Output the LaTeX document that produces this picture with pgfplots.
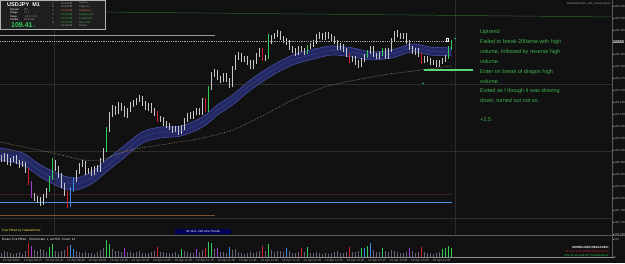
\documentclass[border=0pt]{standalone}
\usepackage{fontspec}
\setmainfont{Liberation Sans}
\usepackage{pgfplots}
\pgfplotsset{compat=1.18}
\usepackage{pgfplotstable}

\definecolor{bg}{HTML}{111111}
\definecolor{gridc}{HTML}{2E2E2E}
\definecolor{sepc}{HTML}{5A5A5A}
\definecolor{candle}{HTML}{C8C8C8}
\definecolor{cgreen}{HTML}{33CC55}
\definecolor{cred}{HTML}{D02030}
\definecolor{cblue}{HTML}{3A8CE8}
\definecolor{cpurple}{HTML}{A040D0}
\definecolor{volgray}{HTML}{67617A}
\definecolor{ribfill}{HTML}{232860}
\definecolor{ribline}{HTML}{4B53B0}
\definecolor{ribmid}{HTML}{363C8E}
\definecolor{ema}{HTML}{C9B487}
\definecolor{note}{HTML}{3FB34F}
\definecolor{axtxt}{HTML}{A0A0A0}
\definecolor{hblue}{HTML}{4F8FE0}
\definecolor{hbrown}{HTML}{7A5030}
\definecolor{hred}{HTML}{401C1C}
\definecolor{tgreen}{HTML}{2E5E2E}
\definecolor{orng}{HTML}{E07030}

\newcommand{\tf}[1]{\fontsize{#1}{#1}\selectfont}

% i open high low close candle-colour volume-colour volume
\pgfplotstableread{
i o h l c k kv v
0 108.975 108.986 108.960 108.968 0 0 60
1 108.968 108.994 108.960 108.983 0 0 85
2 108.983 108.990 108.949 108.956 0 0 70
3 108.956 108.975 108.945 108.968 0 0 55
4 108.968 108.983 108.960 108.975 0 0 45
5 108.975 108.986 108.953 108.960 0 0 65
6 108.960 108.968 108.938 108.949 0 0 80
7 108.949 108.964 108.941 108.956 0 0 50
8 108.956 108.960 108.919 108.930 0 0 95
9 108.930 108.938 108.874 108.881 2 2 210
10 108.881 108.889 108.825 108.836 4 4 160
11 108.836 108.844 108.814 108.825 0 0 110
12 108.825 108.833 108.806 108.818 0 0 90
13 108.818 108.829 108.795 108.806 0 0 120
14 108.806 108.840 108.799 108.833 0 0 100
15 108.833 108.863 108.825 108.855 0 0 75
16 108.855 108.908 108.848 108.900 1 1 150
17 108.900 108.975 108.893 108.960 1 1 190
18 108.960 108.968 108.926 108.938 0 0 85
19 108.938 108.945 108.900 108.911 0 0 70
20 108.911 108.919 108.863 108.874 0 0 90
21 108.874 108.881 108.833 108.844 0 0 105
22 108.844 108.851 108.788 108.799 2 2 160
23 108.799 108.866 108.791 108.855 3 3 180
24 108.855 108.904 108.848 108.893 3 3 120
25 108.893 108.930 108.885 108.923 0 0 95
26 108.923 108.956 108.915 108.949 0 0 80
27 108.949 108.968 108.941 108.956 0 0 60
28 108.956 108.964 108.911 108.923 0 0 75
29 108.923 108.938 108.915 108.930 0 0 55
30 108.930 108.941 108.908 108.919 0 0 65
31 108.919 108.945 108.911 108.938 0 0 50
32 108.938 108.949 108.923 108.930 0 0 70
33 108.930 108.975 108.923 108.968 0 0 110
34 108.968 109.013 108.960 109.005 0 0 130
35 109.005 109.091 108.998 109.080 1 1 250
36 109.080 109.148 109.073 109.136 0 1 200
37 109.136 109.174 109.129 109.163 0 0 120
38 109.163 109.170 109.136 109.148 0 0 90
39 109.148 109.185 109.140 109.174 0 0 85
40 109.174 109.181 109.151 109.163 0 0 70
41 109.163 109.170 109.129 109.136 0 4 140
42 109.136 109.163 109.125 109.155 0 0 80
43 109.155 109.185 109.148 109.174 0 0 75
44 109.174 109.193 109.166 109.181 0 0 60
45 109.181 109.200 109.174 109.193 0 0 70
46 109.193 109.211 109.185 109.200 0 0 85
47 109.200 109.208 109.170 109.181 0 0 65
48 109.181 109.189 109.155 109.163 0 0 55
49 109.163 109.181 109.151 109.174 0 0 60
50 109.174 109.181 109.144 109.155 0 0 75
51 109.155 109.163 109.133 109.144 0 0 90
52 109.144 109.151 109.110 109.118 2 2 150
53 109.118 109.133 109.110 109.125 0 0 70
54 109.125 109.129 109.095 109.106 0 0 80
55 109.106 109.114 109.088 109.099 0 0 65
56 109.099 109.106 109.080 109.088 0 0 55
57 109.088 109.095 109.069 109.080 0 0 60
58 109.080 109.095 109.073 109.088 0 0 70
59 109.088 109.095 109.061 109.073 0 0 50
60 109.073 109.099 109.065 109.088 0 1 120
61 109.088 109.125 109.080 109.118 0 0 95
62 109.118 109.144 109.110 109.136 0 0 80
63 109.136 109.148 109.121 109.129 0 0 60
64 109.129 109.151 109.121 109.144 0 0 65
65 109.144 109.163 109.136 109.155 0 4 120
66 109.155 109.163 109.136 109.144 0 0 70
67 109.144 109.200 109.136 109.193 0 0 100
68 109.193 109.200 109.148 109.155 2 2 140
69 109.155 109.245 109.148 109.238 1 1 230
70 109.238 109.298 109.230 109.286 0 1 210
71 109.286 109.309 109.279 109.298 0 0 120
72 109.298 109.305 109.268 109.275 0 4 130
73 109.275 109.283 109.256 109.268 0 0 80
74 109.268 109.294 109.260 109.286 0 0 70
75 109.286 109.294 109.260 109.268 0 0 60
76 109.268 109.275 109.238 109.249 0 3 150
77 109.249 109.320 109.241 109.313 0 0 110
78 109.313 109.361 109.305 109.350 0 0 120
79 109.350 109.373 109.343 109.361 0 0 75
80 109.361 109.369 109.335 109.343 0 0 65
81 109.343 109.358 109.335 109.350 0 0 50
82 109.350 109.358 109.324 109.335 0 0 60
83 109.335 109.343 109.309 109.316 0 0 70
84 109.316 109.343 109.309 109.335 0 0 55
85 109.335 109.369 109.328 109.361 0 0 80
86 109.361 109.388 109.354 109.380 0 0 90
87 109.380 109.388 109.339 109.350 2 2 160
88 109.350 109.361 109.339 109.354 0 0 90
89 109.354 109.440 109.346 109.410 1 1 200
90 109.410 109.436 109.403 109.429 0 0 110
91 109.429 109.444 109.421 109.436 0 0 80
92 109.436 109.455 109.429 109.444 0 0 95
93 109.444 109.451 109.418 109.425 0 0 85
94 109.425 109.433 109.406 109.418 0 0 70
95 109.418 109.425 109.399 109.410 0 3 140
96 109.410 109.418 109.380 109.388 0 0 90
97 109.388 109.395 109.369 109.380 0 0 65
98 109.380 109.388 109.358 109.369 0 0 60
99 109.369 109.395 109.361 109.388 0 0 75
100 109.388 109.395 109.373 109.380 0 2 130
101 109.380 109.388 109.361 109.373 0 0 70
102 109.373 109.399 109.365 109.391 1 1 150
103 109.391 109.406 109.384 109.399 0 0 65
104 109.399 109.418 109.391 109.410 0 0 55
105 109.410 109.440 109.403 109.429 0 0 80
106 109.429 109.448 109.421 109.436 0 0 60
107 109.436 109.444 109.418 109.425 0 0 50
108 109.425 109.448 109.418 109.440 0 0 55
109 109.440 109.448 109.421 109.433 0 0 45
110 109.433 109.440 109.414 109.425 0 0 60
111 109.425 109.433 109.403 109.410 0 0 70
112 109.410 109.418 109.380 109.388 0 0 85
113 109.388 109.406 109.380 109.399 0 0 55
114 109.399 109.403 109.373 109.380 0 0 65
115 109.380 109.388 109.354 109.361 0 0 80
116 109.361 109.369 109.331 109.343 2 2 150
117 109.343 109.358 109.335 109.350 0 0 70
118 109.350 109.358 109.324 109.335 0 0 80
119 109.335 109.343 109.313 109.324 0 0 90
120 109.324 109.350 109.316 109.343 0 1 130
121 109.343 109.365 109.335 109.358 0 3 140
122 109.358 109.380 109.350 109.373 1 1 170
123 109.373 109.395 109.365 109.388 0 3 210
124 109.388 109.395 109.354 109.361 0 0 100
125 109.361 109.369 109.346 109.354 0 0 80
126 109.354 109.373 109.346 109.365 0 0 70
127 109.365 109.388 109.358 109.380 1 1 140
128 109.380 109.388 109.346 109.354 0 0 90
129 109.354 109.388 109.346 109.380 0 0 75
130 109.380 109.425 109.373 109.418 0 0 110
131 109.418 109.451 109.410 109.444 0 0 95
132 109.444 109.455 109.429 109.436 0 0 70
133 109.436 109.444 109.421 109.429 0 0 60
134 109.429 109.444 109.421 109.436 0 0 55
135 109.436 109.444 109.403 109.410 0 0 80
136 109.410 109.418 109.380 109.388 0 4 140
137 109.388 109.395 109.365 109.373 0 0 90
138 109.373 109.388 109.361 109.380 0 0 60
139 109.380 109.388 109.354 109.361 0 0 70
140 109.361 109.369 109.328 109.335 2 2 150
141 109.335 109.358 109.331 109.350 0 0 80
142 109.350 109.358 109.335 109.343 0 0 60
143 109.343 109.350 109.324 109.331 0 0 55
144 109.331 109.343 109.324 109.335 0 0 50
145 109.335 109.343 109.316 109.324 0 0 65
146 109.324 109.343 109.316 109.335 0 0 70
147 109.335 109.350 109.328 109.343 0 1 120
148 109.343 109.361 109.335 109.354 0 1 130
149 109.354 109.395 109.346 109.388 1 1 170
150 109.388 109.418 109.380 109.413 1 1 140
}\bars

% dragon ribbon: EMA of highs, closes, lows
\pgfplotstableread{
i t m b
-0.5 109.013 108.990 108.968
7 108.994 108.971 108.949
13 108.949 108.926 108.904
20 108.911 108.887 108.863
25 108.900 108.878 108.855
30 108.923 108.900 108.878
35 108.968 108.945 108.923
40 109.013 108.990 108.968
47 109.073 109.052 109.031
53 109.091 109.071 109.050
60 109.095 109.076 109.058
67 109.129 109.110 109.091
72 109.174 109.155 109.136
77 109.211 109.193 109.174
83 109.268 109.249 109.230
90 109.320 109.301 109.283
97 109.361 109.343 109.324
103 109.380 109.361 109.343
110 109.395 109.378 109.361
117 109.388 109.371 109.354
123 109.373 109.358 109.343
130 109.380 109.365 109.350
137 109.403 109.388 109.373
143 109.391 109.376 109.361
150 109.388 109.373 109.358
}\rib

% 200 EMA
\pgfplotstableread{
i e
-0.5 109.035
17 108.994
27 108.968
33 108.968
43 109.005
57 109.031
67 109.050
77 109.080
87 109.133
97 109.193
105 109.230
110 109.249
127 109.286
140 109.305
147 109.316
150 109.320
}\emaa

\newcommand{\drawcandles}[2]{%
 \addplot[#2, line width=0.45pt, mark=none, forget plot, unbounded coords=discard,
   quiver={u=0, v=\thisrow{h}-\thisrow{l}},
   x filter/.expression={\thisrow{k}==#1 ? x : nan}]
   table[x=i, y=l] {\bars};
 \addplot[#2, line width=1.7pt, mark=none, forget plot, unbounded coords=discard,
   quiver={u=0, v=abs(\thisrow{c}-\thisrow{o})},
   x filter/.expression={\thisrow{k}==#1 ? x : nan}]
   table[x=i, y expr={min(\thisrow{o},\thisrow{c})}] {\bars};
}
\newcommand{\drawvol}[2]{%
 \addplot[ycomb, #2, line width=1.3pt, mark=none, forget plot, unbounded coords=discard,
   x filter/.expression={\thisrow{kv}==#1 ? x : nan}]
   table[x=i, y=v] {\bars};
}

\begin{document}
\begin{tikzpicture}
\fill[bg] (0,0) rectangle (625pt,263pt);

% ---------------- main price pane ----------------
\begin{axis}[
  at={(0pt,29pt)}, anchor=south west,
  width=612pt, height=234pt, scale only axis,
  xmin=-0.5, xmax=203.5,
  ymin=108.690, ymax=109.5675,
  axis line style={draw=none},
  xtick=\empty,
  ytick={108.690,108.735,108.780,108.825,108.870,108.915,108.960,109.005,109.050,109.095,109.140,109.185,109.230,109.275,109.320,109.365,109.455,109.500,109.545},
  ytick pos=right,
  tick align=outside,
  major tick length=1.5pt,
  ytick style={draw=axtxt, line width=0.3pt},
  scaled y ticks=false,
  /pgf/number format/assume math mode=true,
  yticklabel style={font=\tf{3}, text=axtxt, inner sep=0.6pt,
    /pgf/number format/fixed, /pgf/number format/fixed zerofill,
    /pgf/number format/precision=3},
]
% dragon ribbon fill: fill down from the top line, then clear below the bottom line
\addplot[fill=ribfill, draw=none, smooth, forget plot] table[x=i, y=t] {\rib} \closedcycle;
\addplot[fill=bg, draw=none, smooth, forget plot] table[x=i, y=b] {\rib} \closedcycle;
% grid
\addplot[gridc, line width=0.4pt, forget plot] coordinates {(-0.5,109.25) (203.5,109.25)};
\addplot[gridc, line width=0.4pt, forget plot] coordinates {(-0.5,109.0) (203.5,109.0)};
\addplot[gridc, line width=0.4pt, forget plot] coordinates {(-0.5,108.75) (203.5,108.75)};
\addplot[gridc, line width=0.4pt, forget plot] coordinates {(17.5,108.690) (17.5,109.5675)};
\addplot[gridc, line width=0.4pt, forget plot] coordinates {(151.2,108.690) (151.2,109.5675)};
% horizontal objects
\addplot[tgreen, line width=0.5pt, forget plot] coordinates {(-0.5,109.526) (203.5,109.504)};
\addplot[hred, line width=0.6pt, forget plot] coordinates {(-0.5,108.840) (150,108.840)};
\addplot[hblue, line width=0.6pt, forget plot] coordinates {(-0.5,108.810) (150,108.810)};
\addplot[hbrown, line width=0.6pt, forget plot] coordinates {(-0.5,108.761) (71,108.761)};
\addplot[gray!80, line width=0.5pt, forget plot] coordinates {(-0.5,109.436) (71,109.436)};
% dragon ribbon lines
\addplot[ribline, line width=0.55pt, smooth, forget plot] table[x=i, y=t] {\rib};
\addplot[ribmid, line width=0.5pt, smooth, forget plot] table[x=i, y=m] {\rib};
\addplot[ribline, line width=0.55pt, smooth, forget plot] table[x=i, y=b] {\rib};
% 200 ema
\addplot[ema, line width=0.55pt, smooth, dash pattern=on 0.5pt off 1.2pt, forget plot] table[x=i, y=e] {\emaa};
% candles
\drawcandles{0}{candle}
\drawcandles{1}{cgreen}
\drawcandles{2}{cred}
\drawcandles{3}{cblue}
\drawcandles{4}{cpurple}
% bid line
\addplot[gray!70, line width=0.4pt, dash pattern=on 0.6pt off 1.2pt, forget plot] coordinates {(-0.5,109.414) (148.5,109.414)};
% trade marks
\addplot[cgreen!80, line width=1.4pt, forget plot] coordinates {(140.7,109.305) (157,109.305)};
\addplot[only marks, mark=*, mark size=0.5pt, cgreen, forget plot] coordinates {(140.5,109.256)};
\addplot[only marks, mark=square, mark size=1.2pt, white, line width=0.4pt, forget plot] coordinates {(148.6,109.419)};
\addplot[only marks, mark=*, mark size=0.5pt, cgreen, forget plot] coordinates {(151.2,109.422)};
\end{axis}

% ---------------- volume pane ----------------
\begin{axis}[
  at={(0pt,6pt)}, anchor=south west,
  width=612pt, height=21pt, scale only axis,
  xmin=-0.5, xmax=203.5, ymin=0, ymax=312,
  axis line style={draw=none},
  xtick={0.17,7.33,14.5,21.67,28.83,36,43.17,50.33,57.5,64.67,71.83,79,86.17,93.33,100.5,107.67,114.83,122,129.17,136.33,143.5},
  xticklabels={19 Apr 2020,19 Apr 09:15,19 Apr 09:30,19 Apr 09:45,19 Apr 10:00,19 Apr 10:15,19 Apr 10:30,19 Apr 10:45,19 Apr 11:00,19 Apr 11:15,19 Apr 11:30,19 Apr 11:45,19 Apr 12:00,19 Apr 12:15,19 Apr 12:30,19 Apr 12:45,19 Apr 13:00,19 Apr 13:15,19 Apr 13:30,19 Apr 13:45,19 Apr 14:00},
  xticklabel style={font=\tf{3.1}, text=axtxt, anchor=north west, inner sep=0.5pt},
  xtick style={draw=none},
  ytick={0,263}, ytick pos=right, tick align=outside, major tick length=1.5pt,
  ytick style={draw=axtxt, line width=0.3pt},
  /pgf/number format/assume math mode=true,
  yticklabel style={font=\tf{3}, text=axtxt, inner sep=0.6pt},
]
\drawvol{0}{volgray}
\drawvol{1}{cgreen}
\drawvol{2}{cred}
\drawvol{3}{cblue}
\drawvol{4}{cpurple}
\end{axis}

% frame lines
\draw[sepc, line width=0.5pt] (612pt,6pt) -- (612pt,263pt);
\draw[sepc, line width=0.6pt] (0,28pt) -- (625pt,28pt);
\draw[sepc!70, line width=0.4pt] (0,6pt) -- (612pt,6pt);

% current price tag
\node[fill=gray!75, text=black, font=\tf{3}, inner sep=0.5pt, anchor=west] at (612.3pt,221.5pt) {109.413};

% info panel
\filldraw[fill=black!88, draw=gray!60, line width=0.4pt] (0,234pt) rectangle (105pt,263pt);
\node[anchor=west, text=white, font=\bfseries\tf{5.5}, inner sep=0] at (7pt,258.5pt) {USDJPY\ \ M1};
\begin{scope}[font=\tf{2.6}, inner sep=0]
\node[anchor=west, text=white] at (10pt,253.5pt) {Spread};
\node[anchor=west, text=white] at (10pt,250pt) {Range};
\node[anchor=west, text=white] at (10pt,246.5pt) {Swap};
\node[anchor=west, text=white] at (10pt,243pt) {Candle};
\node[anchor=west, text=gray!70] at (24pt,253.5pt) {0.8};
\node[anchor=west, text=gray!70] at (24pt,250pt) {17.1};
\node[anchor=west, text=gray!70] at (24pt,246.5pt) {-3.71 / 1.12};
\node[anchor=west, text=gray!70] at (24pt,243pt) {00:00:04};
\node[anchor=west, text=gray!70] at (52pt,259.7pt) {P};
\node[anchor=west, text=gray!70] at (52pt,255.9pt) {H};
\node[anchor=west, text=gray!70] at (52pt,252.1pt) {Y};
\node[anchor=west, text=gray!70] at (52pt,248.3pt) {S};
\node[anchor=west, text=gray!70] at (52pt,244.5pt) {L};
\node[anchor=west, text=gray!70] at (52pt,240.7pt) {N};
\node[anchor=west, text=gray!70] at (61pt,259.7pt) {10:34 PM};
\node[anchor=west, text=gray!70] at (61pt,255.9pt) {10:34 PM};
\node[anchor=west, text=orng] at (61pt,252.1pt) {10:34 PM};
\node[anchor=west, text=note] at (61pt,248.3pt) {10:34 PM};
\node[anchor=west, text=note] at (61pt,244.5pt) {10:34 PM};
\node[anchor=west, text=note] at (61pt,240.7pt) {10:34 PM};
\node[anchor=west, text=gray!70] at (61pt,236.9pt) {10:34 PM};
\node[anchor=west, text=gray!70] at (79pt,259.7pt) {Sydney};
\node[anchor=west, text=gray!70] at (79pt,255.9pt) {Tokyo (L)};
\node[anchor=west, text=orng] at (79pt,252.1pt) {Hongkong};
\node[anchor=west, text=note] at (79pt,248.3pt) {Frankfurt (D)};
\node[anchor=west, text=note] at (79pt,244.5pt) {London (D)};
\node[anchor=west, text=note] at (79pt,240.7pt) {New York};
\node[anchor=west, text=gray!70] at (79pt,236.9pt) {Server};
\end{scope}
\node[anchor=west, text=cgreen, font=\bfseries\tf{7}, inner sep=0] at (11pt,238pt) {109.41};
\node[anchor=west, text=cgreen, font=\tf{3}, inner sep=0] at (33pt,237pt) {3};

% indicator name
\node[anchor=east, text=axtxt, font=\tf{2.8}, inner sep=0] at (610pt,259.5pt) {DealerOnChart\_v16\_Crossover(3)};

% trade notes
\begin{scope}[font=\tf{5.5}, text=note, inner sep=0]
\node[anchor=west] at (480pt,230.7pt) {Uptrend};
\node[anchor=west] at (480pt,220.7pt) {Failed to break 200ema with high};
\node[anchor=west] at (480pt,210.7pt) {volume, followed by reverse high};
\node[anchor=west] at (480pt,201pt) {volume.};
\node[anchor=west] at (480pt,191.3pt) {Enter on break of dragon high};
\node[anchor=west] at (480pt,181.7pt) {volume.};
\node[anchor=west] at (480pt,172pt) {Exited as I though it was slowing};
\node[anchor=west] at (480pt,162.3pt) {down, turned out not so.};
\node[anchor=west] at (480pt,143pt) {+2.5};
\end{scope}

% indicator labels
\node[anchor=west, text=yellow!70!white, font=\tf{3}, inner sep=0] at (2pt,32pt) {Free PRSA by TradersHome};
\node[fill=blue!35!black, text=white, font=\tf{3}, minimum width=56pt, minimum height=5.5pt, inner sep=0] at (203pt,31.5pt) {30 mins, 200 ema Trends};
\node[anchor=west, text=white, font=\tf{3}, inner sep=0] at (2pt,23.5pt) {Broker Tick PRSA\quad Chart Scale: 1, AvrTCh, Count: 12};
\node[anchor=east, text=white, font=\bfseries\tf{3}, inner sep=0] at (609pt,16pt) {SCHEDULED RELEASES:};
\node[anchor=east, text=cred, font=\tf{2.8}, inner sep=0] at (609pt,11.5pt) {28 mins until USD Building Permits};
\node[anchor=east, text=cgreen, font=\tf{2.8}, inner sep=0] at (609pt,7.5pt) {2.5d 14 hrs until JPY Trade Balance};

\pgfresetboundingbox
\path[use as bounding box] (0,0) rectangle (625pt,263pt);
\end{tikzpicture}
\end{document}
